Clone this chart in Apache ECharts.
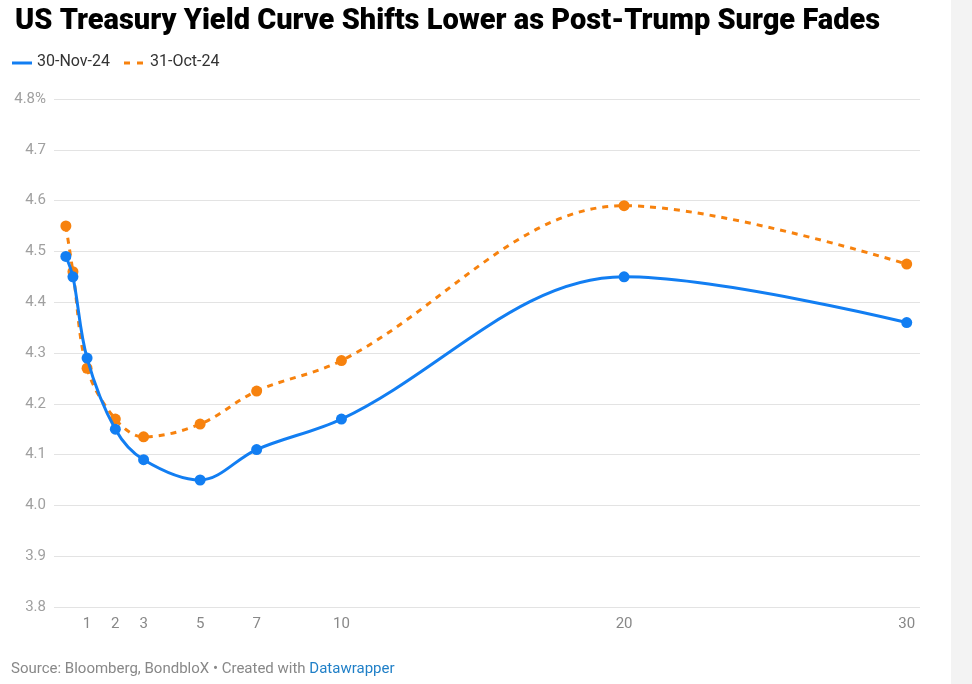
<!DOCTYPE html>
<html>
<head>
<meta charset="utf-8">
<script src="https://cdn.jsdelivr.net/npm/echarts@6/dist/echarts.min.js"></script>
<style>
html,body{margin:0;padding:0;background:#fff;}
#c{width:972px;height:684px;}
</style>
</head>
<body>
<div id="c"></div>
<script>
// Maturities in years
const maturities = [0.25, 0.5, 1, 2, 3, 5, 7, 10, 20, 30];
const nov24 = [4.49, 4.45, 4.29, 4.15, 4.09, 4.05, 4.11, 4.17, 4.45, 4.36];
const oct24 = [4.55, 4.46, 4.27, 4.17, 4.135, 4.16, 4.225, 4.285, 4.59, 4.475];
const xTicks = [1, 2, 3, 5, 7, 10, 20, 30];
const seriesNames = ['30-Nov-24', '31-Oct-24'];

const BLUE = '#127ef2';
const ORANGE = '#f7820e';
const FONT = 'Roboto, "Liberation Sans", sans-serif';

const chart = echarts.init(document.getElementById('c'), null, {renderer: 'canvas'});
const pair = (xs, ys) => xs.map((x, i) => [x, ys[i]]);

chart.setOption({
  animation: false,
  backgroundColor: '#fff',
  textStyle: {fontFamily: FONT},
  title: {
    text: 'US Treasury Yield Curve Shifts Lower as Post-Trump Surge Fades',
    left: 10, top: 2,
    textStyle: {fontFamily: FONT, fontSize: 29, fontWeight: 900, color: '#000'}
  },
  grid: {left: 54, right: 52, top: 99, bottom: 77, containLabel: false},
  xAxis: {
    type: 'value', min: -0.17, max: 30.47,
    axisLine: {show: false}, axisTick: {show: false}, splitLine: {show: false},
    axisLabel: {customValues: xTicks, color: '#888', fontSize: 15, margin: 10, fontFamily: FONT}
  },
  yAxis: {
    type: 'value', min: 3.8, max: 4.8, interval: 0.1,
    axisLine: {show: false}, axisTick: {show: false},
    splitLine: {lineStyle: {color: '#e3e3e3', width: 1}},
    axisLabel: {
      color: '#a0a0a0', fontSize: 15, margin: 8, fontFamily: FONT,
      formatter: v => Math.abs(v - 4.8) < 1e-6 ? '4.8%' : v.toFixed(1)
    }
  },
  series: [
    {
      name: seriesNames[1], type: 'line', data: pair(maturities, oct24),
      smooth: 0.35,
      symbol: 'circle', symbolSize: 11,
      lineStyle: {color: ORANGE, width: 3, type: [6, 6]},
      itemStyle: {color: ORANGE}, z: 2
    },
    {
      name: seriesNames[0], type: 'line', data: pair(maturities, nov24),
      smooth: 0.35,
      symbol: 'circle', symbolSize: 11,
      lineStyle: {color: BLUE, width: 3},
      itemStyle: {color: BLUE}, z: 3
    }
  ],
  graphic: [
    {type: 'rect', shape: {x: 951, y: 0, width: 21, height: 684}, style: {fill: '#f3f3f3'}, silent: true},
    {type: 'line', shape: {x1: 12, y1: 63, x2: 32, y2: 63}, style: {stroke: BLUE, lineWidth: 3}},
    {type: 'text', left: 37, top: 54, style: {text: seriesNames[0], fill: '#333', font: '16px ' + FONT}},
    {type: 'line', shape: {x1: 124, y1: 63, x2: 144, y2: 63}, style: {stroke: ORANGE, lineWidth: 3, lineDash: [6, 7]}},
    {type: 'text', left: 150, top: 54, style: {text: seriesNames[1], fill: '#333', font: '16px ' + FONT}},
    {type: 'text', left: 11, top: 662, style: {
      rich: {
        g: {fill: '#888', fontSize: 15, fontFamily: FONT},
        b: {fill: '#1f7fc7', fontSize: 15, fontFamily: FONT}
      },
      text: '{g|Source: Bloomberg, BondbloX • Created with }{b|Datawrapper}'
    }}
  ]
});
</script>
</body>
</html>
